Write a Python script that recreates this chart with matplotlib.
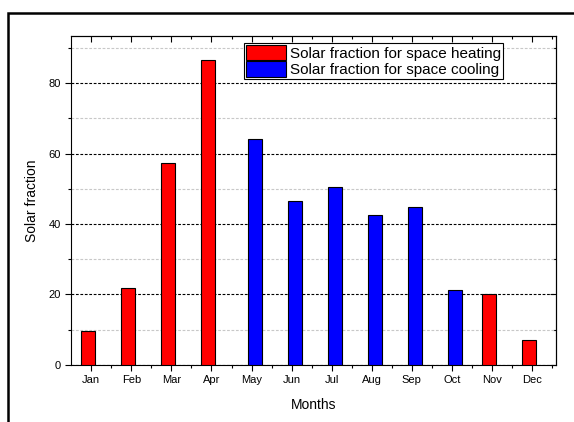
import matplotlib
matplotlib.use("Agg")
import matplotlib.pyplot as plt
from matplotlib.patches import Rectangle, Patch
import numpy as np

months = ["Jan", "Feb", "Mar", "Apr", "May", "Jun", "Jul", "Aug", "Sep", "Oct", "Nov", "Dec"]
heating = [9.5, 21.7, 57.4, 86.6, 0, 0, 0, 0, 0, 0, 20.2, 7.0]
cooling = [0, 0, 0, 0, 64.0, 46.6, 50.6, 42.4, 44.9, 21.1, 0, 0]

plt.rcParams['font.family'] = ['Liberation Sans', 'DejaVu Sans']

fig = plt.figure(figsize=(5.74, 4.22), dpi=100)
ax = fig.add_axes([0.1242, 0.1358, 0.9686 - 0.1242, 0.9147 - 0.1358])

x = np.arange(len(months))
w = 0.35
hx = [xi - 0.08 for xi, v in zip(x, heating) if v > 0]
hv = [v for v in heating if v > 0]
cx = [xi + 0.08 for xi, v in zip(x, cooling) if v > 0]
cv = [v for v in cooling if v > 0]
ax.bar(hx, hv, width=w, color="#ff0000", edgecolor="black", linewidth=0.8, zorder=3)
ax.bar(cx, cv, width=w, color="#0000ff", edgecolor="black", linewidth=0.8, zorder=3)

ax.set_xlim(-0.5, 11.6)
ax.set_ylim(0, 93.4)
ax.set_xticks(x)
ax.set_xticklabels(months, fontsize=8)
ax.set_xticks(x + 0.5, minor=True)
ax.set_yticks([0, 20, 40, 60, 80])
ax.set_yticks([10, 30, 50, 70, 90], minor=True)
ax.tick_params(axis='y', labelsize=8)

ax.grid(True, which='major', axis='y', linestyle=(0, (2.5, 1.5)), color='black', linewidth=0.8, zorder=1)
ax.grid(True, which='minor', axis='y', linestyle=(0, (2.5, 1.5)), color='#c8c8c8', linewidth=0.8, zorder=1)

ax.tick_params(which='both', direction='out', top=False, right=False)
ax.tick_params(which='major', length=4, width=0.8)
ax.tick_params(which='minor', length=2.5, width=0.8)

# top and right inward ticks
axt = ax.secondary_xaxis('top')
axt.set_xticks(x)
axt.set_xticks(x + 0.5, minor=True)
axt.tick_params(which='both', direction='in', labeltop=False)
axt.tick_params(which='major', length=4, width=0.8)
axt.tick_params(which='minor', length=2.5, width=0.8)
axr = ax.secondary_yaxis('right')
axr.set_yticks([0, 20, 40, 60, 80])
axr.set_yticks([10, 30, 50, 70, 90], minor=True)
axr.tick_params(which='both', direction='in', labelright=False)
axr.tick_params(which='major', length=4, width=0.8)
axr.tick_params(which='minor', length=2.5, width=0.8)

for s in ax.spines.values():
    s.set_linewidth(0.8)

ax.set_xlabel("Months", fontsize=10, labelpad=9)
ax.set_ylabel("Solar fraction", fontsize=10, labelpad=7)

handles = [Patch(facecolor="#ff0000", edgecolor="black", linewidth=0.8),
           Patch(facecolor="#0000ff", edgecolor="black", linewidth=0.8)]
leg = ax.legend(handles, ["Solar fraction for space heating", "Solar fraction for space cooling"],
                loc='upper left', bbox_to_anchor=(0.357, 0.979), fontsize=11,
                frameon=True, fancybox=False, edgecolor='black', framealpha=1,
                handlelength=2.6, handleheight=1.2, handletextpad=0.3,
                borderpad=0.12, labelspacing=0.05, borderaxespad=0)
leg.get_frame().set_linewidth(0.8)
leg.set_zorder(5)

# figure frame
fig.patches.append(Rectangle((8 / 574, -0.1), 1.2, (422 - 13) / 422 + 0.1,
                             transform=fig.transFigure, fill=False,
                             edgecolor='black', linewidth=1.8))

fig.savefig("out.png", dpi=100)
